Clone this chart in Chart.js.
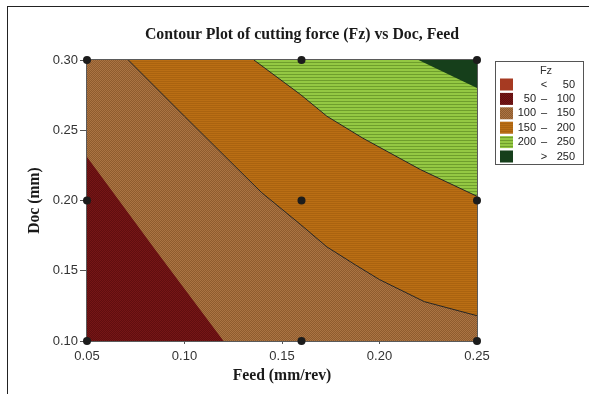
<!DOCTYPE html>
<html>
<head>
<meta charset="utf-8">
<script src="https://cdn.jsdelivr.net/npm/chart.js@4"></script>
<style>
  html, body { margin: 0; padding: 0; background: #fff; }
  #wrap { position: relative; width: 589px; height: 394px; }
  #frame { position: absolute; left: 7px; top: 6px; right: -2px; bottom: -2px; border-left: 1px solid #222; border-top: 1px solid #222; }
  canvas { position: absolute; left: 0; top: 0; }
</style>
</head>
<body>
<div id="wrap">
  <div id="frame"></div>
  <canvas id="myChart" width="589" height="394"></canvas>
</div>
<script>
// design points (Feed x Doc grid)
const feedLevels = [0.05, 0.16, 0.25];
const docLevels = [0.10, 0.20, 0.30];

// contour boundaries: Fz = 100, 150, 200, 250
const c100Feed = [0.05, 0.085, 0.12];
const c100Doc = [0.231, 0.165, 0.10];
const c150Feed = [0.0712, 0.10, 0.1394, 0.1596, 0.173, 0.1875, 0.200, 0.223, 0.25];
const c150Doc = [0.30, 0.260, 0.2058, 0.1828, 0.167, 0.1543, 0.1437, 0.128, 0.118];
const c200Feed = [0.1356, 0.1596, 0.173, 0.1913, 0.221, 0.25];
const c200Doc = [0.30, 0.2753, 0.260, 0.2445, 0.222, 0.203];
const c250Feed = [0.220, 0.25];
const c250Doc = [0.30, 0.280];

// legend
const fzLow = ["", "50", "100", "150", "200", ""];
const fzSep = ["<", "\u2013", "\u2013", "\u2013", "\u2013", ">"];
const fzHigh = ["50", "100", "150", "200", "250", "250"];

const xMin = 0.05, xMax = 0.25, yMin = 0.10, yMax = 0.30;

// small tiled fills to mimic the hatched look
function makePattern(w, h, rows) {
  const c = document.createElement("canvas");
  c.width = w;
  c.height = h;
  const g = c.getContext("2d");
  for (let y = 0; y < h; y++) {
    for (let x = 0; x < w; x++) {
      g.fillStyle = rows[y][x];
      g.fillRect(x, y, 1, 1);
    }
  }
  return g.createPattern(c, "repeat");
}
const ctx = document.getElementById("myChart").getContext("2d");
const fillLt50 = "#a63a22";
const fill50 = makePattern(2, 2, [["#761616", "#600e0f"], ["#600e0f", "#761616"]]);
const fill100 = makePattern(2, 2, [["#ab7443", "#8f5c2e"], ["#8f5c2e", "#ab7443"]]);
const fill150 = makePattern(2, 2, [["#ba6e14", "#ba6e14"], ["#aa6310", "#aa6310"]]);
const fill200 = makePattern(1, 3, [["#94c843"], ["#94c843"], ["#6f9e2c"]]);
const fill250 = "#163f1b";
const legendFills = [fillLt50, fill50, fill100, fill150, fill200, fill250];

function pts(xs, ys) {
  return xs.map((x, i) => ({ x: x, y: ys[i] }));
}

function region(data, fill, order) {
  return { data: data, fill: "shape", backgroundColor: fill, borderWidth: 0, pointRadius: 0, order: order, tension: 0 };
}
function contour(data) {
  return { data: data, fill: false, borderColor: "#262626", borderWidth: 1, pointRadius: 0, order: 2, tension: 0 };
}

const designPts = [];
feedLevels.forEach(f => docLevels.forEach(d => designPts.push({ x: f, y: d })));

const datasets = [
  // painted from back (high order) to front
  region([{ x: xMin, y: yMin }, { x: xMin, y: yMax }, { x: xMax, y: yMax }, { x: xMax, y: yMin }], fill100, 10),
  region([{ x: xMin, y: yMin }].concat(pts(c100Feed, c100Doc)), fill50, 9),
  region(pts(c150Feed, c150Doc).concat([{ x: xMax, y: yMax }]), fill150, 8),
  region(pts(c200Feed, c200Doc).concat([{ x: xMax, y: yMax }]), fill200, 7),
  region(pts(c250Feed, c250Doc).concat([{ x: xMax, y: yMax }]), fill250, 6),
  contour(pts(c150Feed, c150Doc)),
  contour(pts(c200Feed, c200Doc)),
  {
    data: designPts, showLine: false, fill: false, clip: false, pointRadius: 4, pointHoverRadius: 4,
    pointBackgroundColor: "#1c1c1c", pointBorderColor: "#1c1c1c", pointBorderWidth: 0, order: 0
  }
];

const extras = {
  id: "extras",
  beforeDatasetsDraw(chart) {
    const a = chart.chartArea;
    const g = chart.ctx;
    g.save();
    g.strokeStyle = "#5a5a5a";
    g.lineWidth = 1;
    g.strokeRect(a.left - 0.5, a.top - 0.5, a.right - a.left + 1, a.bottom - a.top + 1);
    g.restore();
  },
  afterDraw(chart) {
    const g = chart.ctx;
    g.save();
    // title
    g.fillStyle = "#1a1a1a";
    g.font = "bold 15.8px 'Liberation Serif'";
    g.textAlign = "center";
    g.textBaseline = "middle";
    g.fillText("Contour Plot of cutting force (Fz) vs Doc, Feed", 302, 35);
    // legend
    g.strokeStyle = "#555";
    g.lineWidth = 1;
    g.strokeRect(495.5, 61.5, 88, 103);
    g.font = "11px 'Liberation Sans'";
    g.fillStyle = "#333";
    g.fillText("Fz", 546, 71);
    for (let i = 0; i < fzHigh.length; i++) {
      const cy = 84.5 + i * 14.4;
      g.fillStyle = legendFills[i];
      g.fillRect(500, cy - 6, 13, 12);
      g.fillStyle = "#222";
      g.textAlign = "center";
      g.fillText(fzSep[i], 544, cy);
      g.textAlign = "right";
      g.fillText(fzHigh[i], 575, cy);
      if (fzLow[i]) g.fillText(fzLow[i], 536, cy);
    }
    g.restore();
  }
};

new Chart(ctx, {
  type: "line",
  data: { datasets: datasets },
  options: {
    responsive: false,
    animation: false,
    events: [],
    layout: { padding: { top: 60, right: 112, left: 0, bottom: 0 }, autoPadding: false },
    plugins: {
      legend: { display: false },
      title: { display: false },
      tooltip: { enabled: false },
      filler: { drawTime: "beforeDatasetsDraw" }
    },
    scales: {
      x: {
        type: "linear", min: xMin, max: xMax,
        afterFit: s => { s.height = 53; },
        ticks: {
          stepSize: 0.05, color: "#333", padding: 5, maxRotation: 0,
          font: { family: "'Liberation Sans'", size: 13 },
          callback: v => v.toFixed(2)
        },
        grid: { drawOnChartArea: false, drawTicks: true, tickLength: 3, color: "#555" },
        border: { display: false },
        title: {
          display: true, text: "Feed (mm/rev)", color: "#1a1a1a",
          font: { family: "'Liberation Serif'", size: 15.7, weight: "bold" },
          padding: { top: 0, bottom: 9 }
        }
      },
      y: {
        type: "linear", min: yMin, max: yMax,
        afterFit: s => { s.width = 87; },
        ticks: {
          stepSize: 0.05, color: "#333", padding: 2,
          font: { family: "'Liberation Sans'", size: 13 },
          callback: v => v.toFixed(2)
        },
        grid: { drawOnChartArea: false, drawTicks: true, tickLength: 7, color: "#555" },
        border: { display: false },
        title: {
          display: true, text: "Doc (mm)", color: "#1a1a1a",
          font: { family: "'Liberation Serif'", size: 15.7, weight: "bold" },
          padding: { top: 26, bottom: 0 }
        }
      }
    }
  },
  plugins: [extras]
});
</script>
</body>
</html>
